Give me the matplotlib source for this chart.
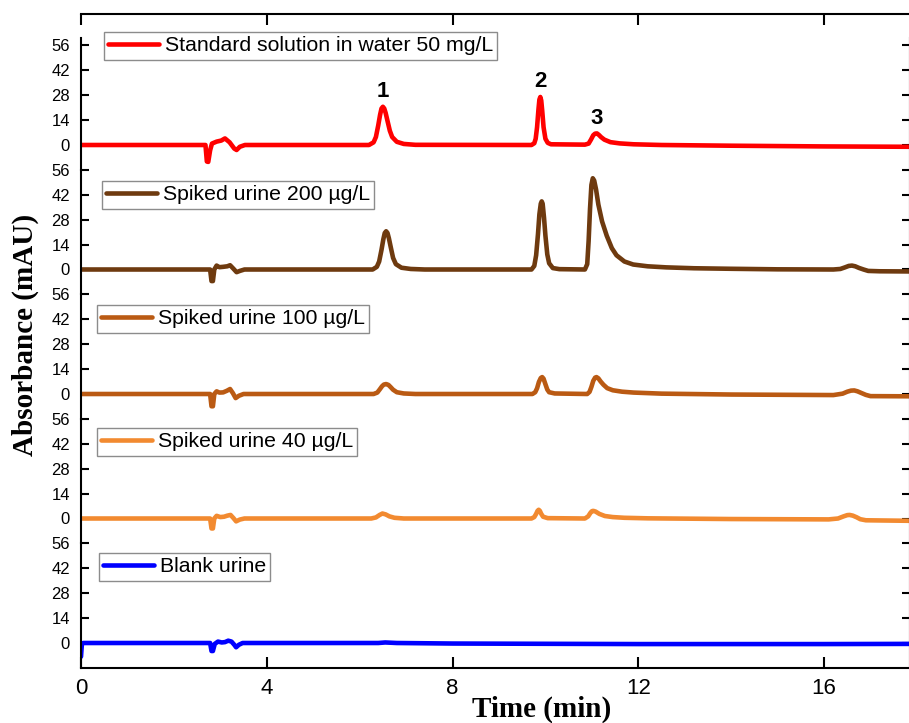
import matplotlib
matplotlib.use("Agg")
import matplotlib.pyplot as plt

plt.rcParams["font.family"] = ["Liberation Sans", "DejaVu Sans"]

# ---- chromatogram traces (time in min, absorbance in mAU) ----
labels = [
    "Standard solution in water 50 mg/L",
    "Spiked urine 200 \u00b5g/L",
    "Spiked urine 100 \u00b5g/L",
    "Spiked urine 40 \u00b5g/L",
    "Blank urine",
]
colors = ["#FF0000", "#6E3A0F", "#BA5A13", "#F28A30", "#0000FF"]

std_t = [0, 2.68, 2.71, 2.74, 2.78, 2.82, 2.92, 3.02, 3.10, 3.20, 3.30, 3.35, 3.42, 3.53,
         6.2, 6.3, 6.35, 6.4, 6.44, 6.47, 6.5, 6.53, 6.56, 6.6, 6.65, 6.7, 6.8, 6.95, 7.2,
         9.7, 9.76, 9.79, 9.82, 9.85, 9.87, 9.89, 9.91, 9.93, 9.96, 10.0, 10.05, 10.12,
         10.85, 10.93, 10.98, 11.03, 11.07, 11.11, 11.15, 11.2, 11.27, 11.4, 11.6, 11.9,
         12.5, 14.0, 16.0, 17.85]
std_y = [0, 0, -9.3, -9.5, -3.0, 0.8, 1.9, 2.5, 3.7, 1.5, -2.0, -2.8, -1.0, 0,
         0, 1.5, 4.5, 11.0, 17.0, 20.5, 21.5, 20.5, 18.0, 13.5, 8.0, 4.5, 1.8, 0.6, 0.1,
         0, 1.0, 3.5, 10.0, 20.0, 25.5, 27.0, 25.0, 19.5, 10.0, 3.5, 1.2, 0.4,
         0.2, 0.8, 3.0, 5.5, 6.4, 6.5, 5.7, 4.4, 3.0, 1.6, 0.9, 0.4,
         0.0, -0.4, -0.8, -1.0]

u200_t = [0, 2.78, 2.81, 2.84, 2.87, 2.92, 2.98, 3.06, 3.15, 3.21, 3.28, 3.35, 3.42, 3.52,
          6.28, 6.37, 6.42, 6.47, 6.51, 6.54, 6.57, 6.6, 6.63, 6.67, 6.72, 6.78, 6.9, 7.1,
          7.4,
          9.7, 9.76, 9.8, 9.84, 9.87, 9.9, 9.92, 9.94, 9.97, 10.0, 10.04, 10.08, 10.16,
          10.3,
          10.85, 10.9, 10.93, 10.96, 10.99, 11.02, 11.05, 11.09, 11.14, 11.22, 11.32, 11.43,
          11.53, 11.7, 11.89, 12.2, 12.6, 13.2, 14.0, 15.0, 16.2, 16.35, 16.45, 16.53, 16.6,
          16.67, 16.75, 16.85, 16.95, 17.2, 17.85]
u200_y = [0, 0, -6.5, -6.5, 0, 2.2, 1.3, 1.5, 1.8, 2.4, 0.5, -1.5, -0.8, 0,
          0, 1.5, 4.5, 11.0, 17.0, 20.5, 21.5, 20.5, 17.5, 12.5, 6.5, 3.0, 1.0, 0.3,
          0,
          0, 2.0, 8.0, 20.0, 31.0, 37.0, 38.3, 37.0, 29.0, 19.0, 8.5, 3.5, 0.8,
          0.2,
          0, 3.0, 16.0, 34.0, 47.5, 51.3, 50.0, 45.0, 36.5, 27.0, 19.0, 12.0,
          8.0, 4.5, 2.8, 1.8, 1.2, 0.7, 0.4, 0.1, 0, 0.3, 1.2, 2.0, 2.2,
          1.8, 0.9, 0, -0.8, -1.0, -1.1]

u100_t = [0, 2.78, 2.81, 2.84, 2.87, 2.92, 2.98, 3.06, 3.14, 3.21, 3.27, 3.33, 3.4, 3.5,
          6.3, 6.38, 6.43, 6.48, 6.52, 6.57, 6.62, 6.67, 6.72, 6.8, 6.95, 7.2,
          9.72, 9.78, 9.82, 9.86, 9.9, 9.93, 9.96, 10.0, 10.04, 10.08, 10.2,
          10.9, 10.95, 10.99, 11.03, 11.07, 11.1, 11.14, 11.19, 11.25, 11.33, 11.45, 11.65,
          11.9, 12.5, 14.0, 16.2, 16.4, 16.5, 16.58, 16.65, 16.72, 16.8, 16.9, 17.0, 17.85]
u100_y = [0, 0, -6.9, -6.9, 0, 1.5, 0.8, 0.9, 1.8, 2.8, 0.5, -2.3, -1.0, 0,
          0, 0.8, 2.5, 4.3, 5.3, 5.6, 5.1, 3.8, 2.4, 1.0, 0.3, 0,
          0, 1.0, 3.2, 6.8, 9.0, 9.5, 8.6, 5.5, 2.5, 1.0, 0.3,
          0, 1.2, 4.0, 7.4, 9.2, 9.5, 8.8, 7.0, 5.2, 3.3, 2.1, 1.3,
          0.8, 0.2, -0.3, -0.6, 0.2, 1.3, 1.9, 2.0, 1.5, 0.6, -0.5, -1.2, -1.3]

u40_t = [0, 2.78, 2.81, 2.84, 2.87, 2.92, 3.0, 3.08, 3.15, 3.22, 3.28, 3.34, 3.42, 3.52,
         6.25, 6.35, 6.43, 6.49, 6.56, 6.64, 6.75, 6.95,
         9.7, 9.76, 9.8, 9.83, 9.855, 9.88, 9.91, 9.95, 10.05,
         10.85, 10.92, 10.97, 11.0, 11.03, 11.08, 11.16, 11.28, 11.45, 11.7, 12.2,
         14.0, 16.1, 16.3, 16.42, 16.5, 16.55, 16.62, 16.7, 16.78, 16.9, 17.85]
u40_y = [0, 0, -5.6, -5.6, 0, 1.5, 0.8, 1.0, 1.6, 2.0, 0.3, -1.6, -0.6, 0,
         0, 0.6, 2.0, 2.8, 2.3, 1.2, 0.4, 0,
         0, 0.8, 2.6, 4.3, 4.9, 4.3, 2.6, 1.0, 0.2,
         0, 1.2, 3.2, 4.1, 4.3, 3.9, 2.6, 1.4, 0.8, 0.4, 0.1,
         -0.3, -0.5, 0, 1.2, 1.9, 2.0, 1.6, 0.7, -0.4, -1.0, -1.3]

blank_t = [0, 0.02, 0.05, 2.78, 2.81, 2.84, 2.88, 2.95, 3.03, 3.1, 3.17, 3.24, 3.3, 3.34,
           3.4, 3.48, 6.4, 6.55, 6.8, 8.0, 12.0, 16.0, 17.85]
blank_y = [-7.7, -0.3, 0, 0, -4.5, -4.5, -0.5, 0.8, 0.3, 0.5, 1.3, 0.8, -1.0, -2.4,
           -1.0, 0, 0, 0.3, 0, -0.3, -0.6, -0.6, -0.5]

traces = [(std_t, std_y), (u200_t, u200_y), (u100_t, u100_y), (u40_t, u40_y),
          (blank_t, blank_y)]

# peak numbering on the standard trace: (time, peak height)
peak_ids = ["1", "2", "3"]
peak_t = [6.5, 9.89, 11.1]
peak_h = [21.5, 27.0, 6.5]

x_ticks = [0, 4, 8, 12, 16]
y_ticks = [0, 14, 28, 42, 56]
x_max = 17.85

# ---- layout helpers (pixel positions on a 909 x 723 canvas) ----
W, H = 909, 723
fig = plt.figure(figsize=(W / 100, H / 100), dpi=100)


def fx(px):
    return px / W


def fy(py):
    return 1 - py / H


left_px, right_px = 81, 910
frame_top_px, frame_bot_px = 14, 668

# outer frame carrying the time axis
ax_frame = fig.add_axes([fx(left_px), fy(frame_bot_px),
                         fx(right_px) - fx(left_px), fy(frame_top_px) - fy(frame_bot_px)])
ax_frame.set_xlim(0, x_max)
ax_frame.set_ylim(0, 1)
ax_frame.spines["left"].set_visible(False)
ax_frame.spines["right"].set_visible(False)
for s in ("top", "bottom"):
    ax_frame.spines[s].set_linewidth(1.5)
ax_frame.set_yticks([])
ax_frame.set_xticks(x_ticks)
ax_frame.tick_params(axis="x", which="both", direction="in", top=True, bottom=True,
                     length=8, width=1.5, labelsize=16, pad=7.5)

# stacked panels, one per sample
base0 = 145.0
step = 124.5
ppu = step / 70.0
legend_corners = [(104, 32), (102, 181), (97, 305), (97, 428), (99, 553)]

panels = []
for i, ((t, y), lab, col) in enumerate(zip(traces, labels, colors)):
    yb = base0 + step * i
    ytop = 60 if i == 0 else 56
    bot_px = yb + 14 * ppu
    top_px = yb - ytop * ppu
    ax = fig.add_axes([fx(left_px), fy(bot_px),
                       fx(right_px) - fx(left_px), fy(top_px) - fy(bot_px)])
    ax.set_facecolor("none")
    ax.set_xlim(0, x_max)
    ax.set_ylim(-14, ytop)
    ax.spines["top"].set_visible(False)
    ax.spines["bottom"].set_visible(False)
    ax.spines["left"].set_linewidth(1.5)
    ax.spines["right"].set_linewidth(1.5)
    ax.set_xticks([])
    ax.set_yticks(y_ticks)
    ax.tick_params(axis="y", which="both", direction="in", left=True, right=True,
                   length=5.5, width=1.5, labelsize=12, pad=8)
    line, = ax.plot(t, y, color=col, lw=3.3, solid_joinstyle="round",
                    solid_capstyle="round", label=lab)
    x0, y0 = legend_corners[i]
    leg = ax.legend(handles=[line], loc="upper left",
                    bbox_to_anchor=(fx(x0), fy(y0)), bbox_transform=fig.transFigure,
                    borderaxespad=0, frameon=True, fancybox=False, edgecolor="0.55",
                    framealpha=1, handlelength=2.4, handletextpad=0.25, borderpad=0.2,
                    prop={"family": "Liberation Sans", "size": 15.3})
    leg.get_frame().set_linewidth(1.0)
    panels.append(ax)

for pid, pt, ph in zip(peak_ids, peak_t, peak_h):
    panels[0].text(pt, ph + 8.5, pid, ha="center", va="center",
                   fontsize=16, fontweight="bold")

fig.text(fx(542), fy(717), "Time (min)", ha="center", va="baseline",
         family="Liberation Serif", weight="bold", size=21)
fig.text(fx(25), fy(335), "Absorbance (mAU)", ha="center", va="center", rotation=90,
         family="Liberation Serif", weight="bold", size=21)

fig.savefig("out.png", dpi=100)
